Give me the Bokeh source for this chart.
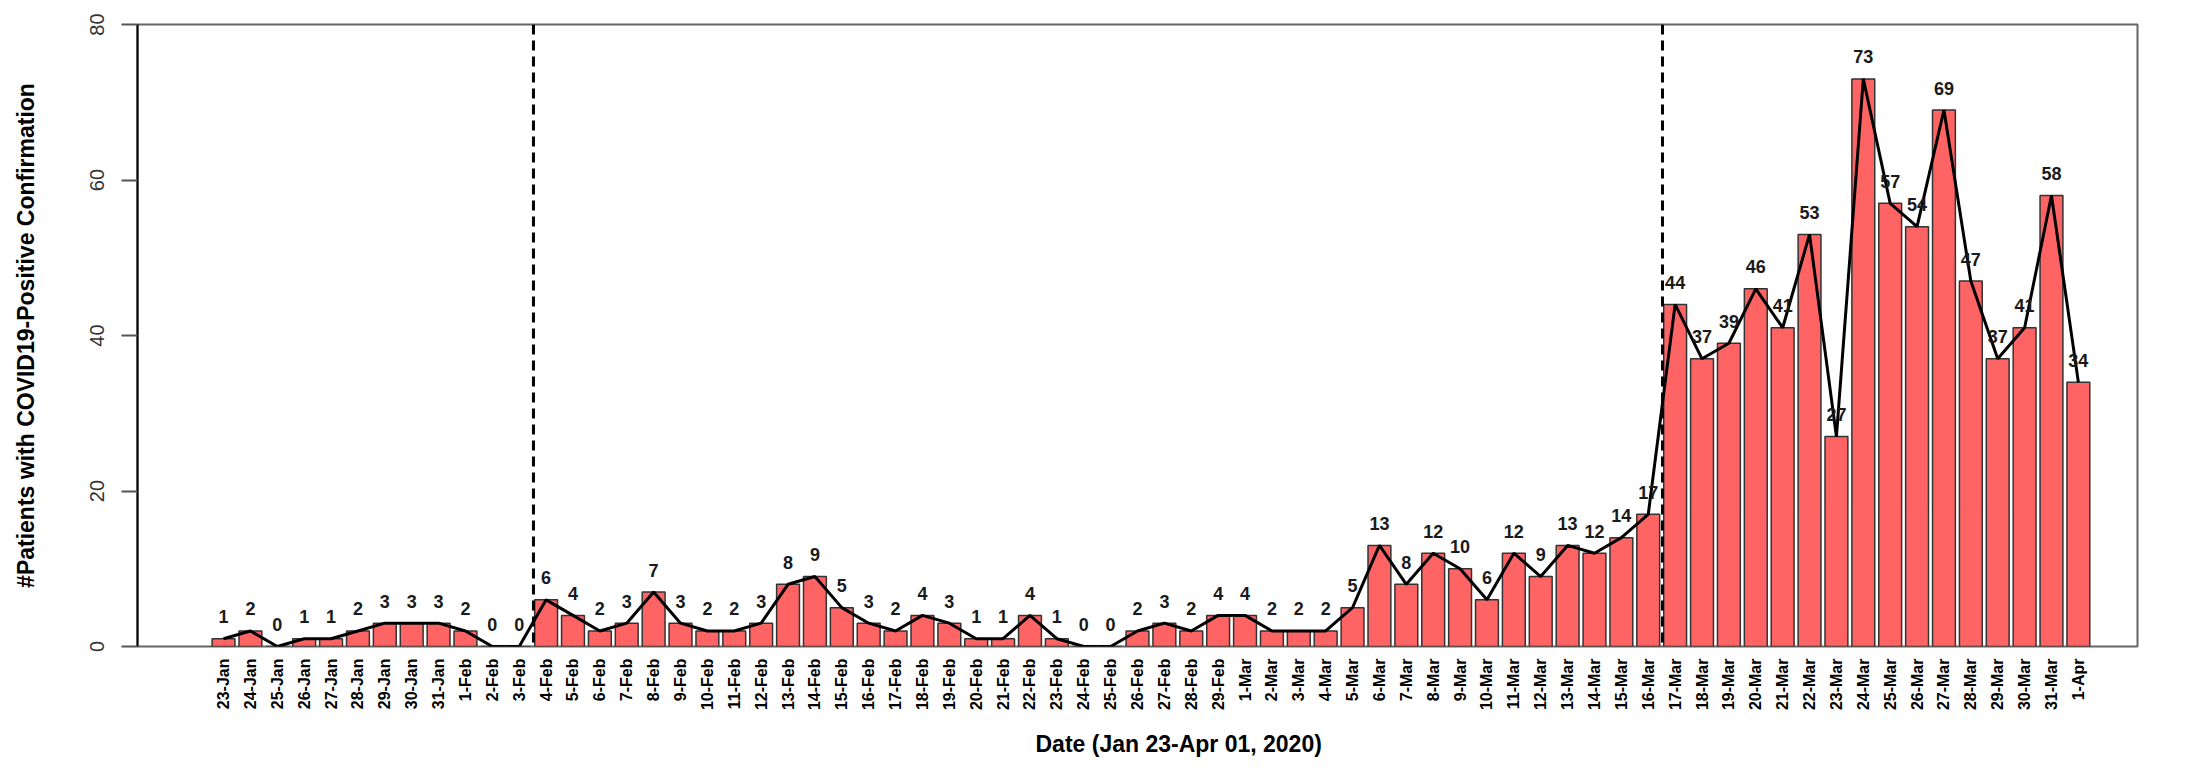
import math
from bokeh.plotting import figure
from bokeh.models import Range1d, FixedTicker, Span, ColumnDataSource, Title
from bokeh.core.properties import value
from bokeh.embed import file_html
from bokeh.resources import INLINE

dates = ["23-Jan", "24-Jan", "25-Jan", "26-Jan", "27-Jan", "28-Jan", "29-Jan", "30-Jan", "31-Jan",
         "1-Feb", "2-Feb", "3-Feb", "4-Feb", "5-Feb", "6-Feb", "7-Feb", "8-Feb", "9-Feb", "10-Feb",
         "11-Feb", "12-Feb", "13-Feb", "14-Feb", "15-Feb", "16-Feb", "17-Feb", "18-Feb", "19-Feb",
         "20-Feb", "21-Feb", "22-Feb", "23-Feb", "24-Feb", "25-Feb", "26-Feb", "27-Feb", "28-Feb",
         "29-Feb", "1-Mar", "2-Mar", "3-Mar", "4-Mar", "5-Mar", "6-Mar", "7-Mar", "8-Mar", "9-Mar",
         "10-Mar", "11-Mar", "12-Mar", "13-Mar", "14-Mar", "15-Mar", "16-Mar", "17-Mar", "18-Mar",
         "19-Mar", "20-Mar", "21-Mar", "22-Mar", "23-Mar", "24-Mar", "25-Mar", "26-Mar", "27-Mar",
         "28-Mar", "29-Mar", "30-Mar", "31-Mar", "1-Apr"]

cases = [1, 2, 0, 1, 1, 2, 3, 3, 3,
         2, 0, 0, 6, 4, 2, 3, 7, 3, 2,
         2, 3, 8, 9, 5, 3, 2, 4, 3,
         1, 1, 4, 1, 0, 0, 2, 3, 2,
         4, 4, 2, 2, 2, 5, 13, 8, 12, 10,
         6, 12, 9, 13, 12, 14, 17, 44, 37,
         39, 46, 41, 53, 27, 73, 57, 54, 69,
         47, 37, 41, 58, 34]

# phase boundaries: dashed lines drawn just before these dates
phase_starts = ["4-Feb", "17-Mar"]

y_ticks = [0, 20, 40, 60, 80]

FONT = "Liberation Sans"

idx = list(range(len(dates)))
src = ColumnDataSource(dict(x=idx, y=cases, lab=[str(c) for c in cases]))

p = figure(width=2179, height=771, output_backend="svg", toolbar_location=None,
           x_range=Range1d(-3.2, len(dates) - 1 + 2.2), y_range=Range1d(0, 80),
           min_border_left=137, min_border_right=42, min_border_top=24, min_border_bottom=118)

p.background_fill_color = "white"
p.border_fill_color = "white"
p.outline_line_color = "#666666"
p.outline_line_width = 2
p.xgrid.visible = False
p.ygrid.visible = False

p.vbar(x="x", top="y", width=0.85, bottom=0, source=src,
       fill_color="#FF6464", line_color="#333333", line_width=1.5)

p.line(x="x", y="y", source=src, line_color="black", line_width=3)

for d in phase_starts:
    p.add_layout(Span(location=dates.index(d) - 0.47, dimension="height",
                      line_color="black", line_width=3, line_dash="10 6"))

p.text(x="x", y="y", text="lab", source=src, text_align="center",
       text_baseline="alphabetic", y_offset=-22,
       text_font=value(FONT), text_font_style="bold", text_font_size="18px",
       text_color="#1a1a1a")

# x axis
xa = p.xaxis[0]
xa.ticker = FixedTicker(ticks=idx)
xa.major_label_overrides = {i: d for i, d in enumerate(dates)}
xa.major_label_orientation = math.pi / 2
xa.major_label_text_font = FONT
xa.major_label_text_font_style = "bold"
xa.major_label_text_font_size = "16px"
xa.major_label_text_color = "black"
xa.major_label_standoff = 6
xa.major_tick_line_color = None
xa.minor_tick_line_color = None
xa.axis_line_color = None

p.add_layout(Title(text="Date (Jan 23-Apr 01, 2020)", align="left", offset=898,
                   standoff=30, text_font=FONT, text_font_style="bold",
                   text_font_size="23px", text_color="black"), "below")

# y axis
ya = p.yaxis[0]
ya.ticker = FixedTicker(ticks=y_ticks)
ya.major_label_orientation = "vertical"
ya.major_label_text_font = FONT
ya.major_label_text_font_style = "normal"
ya.major_label_text_font_size = "20px"
ya.major_label_text_color = "#333333"
ya.major_label_standoff = 18
ya.major_tick_out = 16
ya.major_tick_in = 0
ya.major_tick_line_color = "#555555"
ya.major_tick_line_width = 2
ya.minor_tick_line_color = None
ya.axis_line_color = "black"
ya.axis_line_width = 2
ya.axis_label = "#Patients with COVID19-Positive Confirmation"
ya.axis_label_text_font = FONT
ya.axis_label_text_font_style = "bold"
ya.axis_label_text_font_size = "23px"
ya.axis_label_text_color = "black"
ya.axis_label_standoff = 48

open("out.html", "w").write(file_html(p, INLINE))
